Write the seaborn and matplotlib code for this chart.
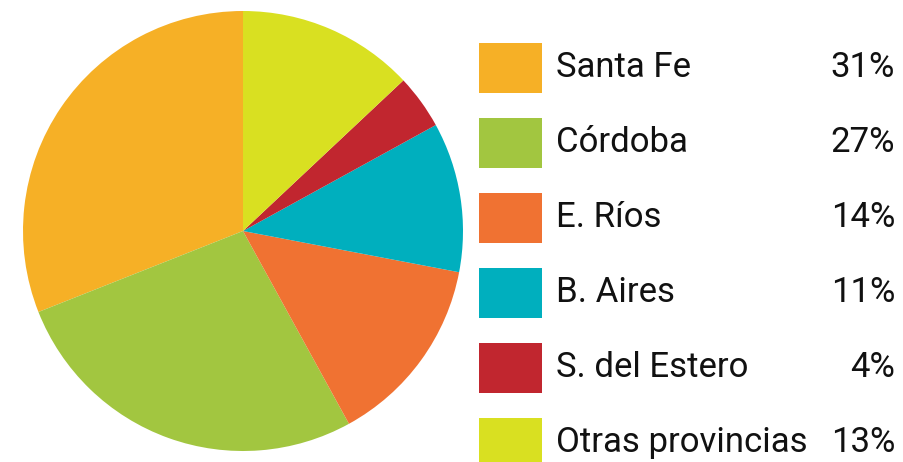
import matplotlib
matplotlib.use("Agg")
import matplotlib.pyplot as plt
import seaborn as sns

provincias = ["Santa Fe", "Córdoba", "E. Ríos", "B. Aires", "S. del Estero", "Otras provincias"]
porcentajes = [31, 27, 14, 11, 4, 13]
colores = ["#F6B026", "#A2C640", "#F07232", "#00AFBE", "#C1262F", "#D9E021"]

sns.set_style("white")
plt.rcParams["font.family"] = ["Roboto", "DejaVu Sans"]

fig = plt.figure(figsize=(9.04, 4.62), dpi=100)

# pie
ax = fig.add_axes([23 / 904, 11 / 462, 440 / 904, 440 / 462])
ax.pie(porcentajes, colors=colores, startangle=90, counterclock=True,
       wedgeprops=dict(linewidth=0))
ax.set_xlim(-1, 1)
ax.set_ylim(-1, 1)
ax.set_aspect("equal")
ax.axis("off")

# legend drawn by hand
lg = fig.add_axes([0, 0, 1, 1])
lg.set_xlim(0, 904)
lg.set_ylim(462, 0)
lg.axis("off")
for i, (nombre, pct, col) in enumerate(zip(provincias, porcentajes, colores)):
    y = 43 + 75 * i
    lg.add_patch(plt.Rectangle((479, y), 63, 50, color=col, lw=0, clip_on=True))
    lg.text(556, y + 34, nombre, fontsize=25, color="#111111", va="baseline", ha="left")
    lg.text(895, y + 34, f"{pct}%", fontsize=25, color="#111111", va="baseline", ha="right")

fig.savefig("out.png", dpi=100)
